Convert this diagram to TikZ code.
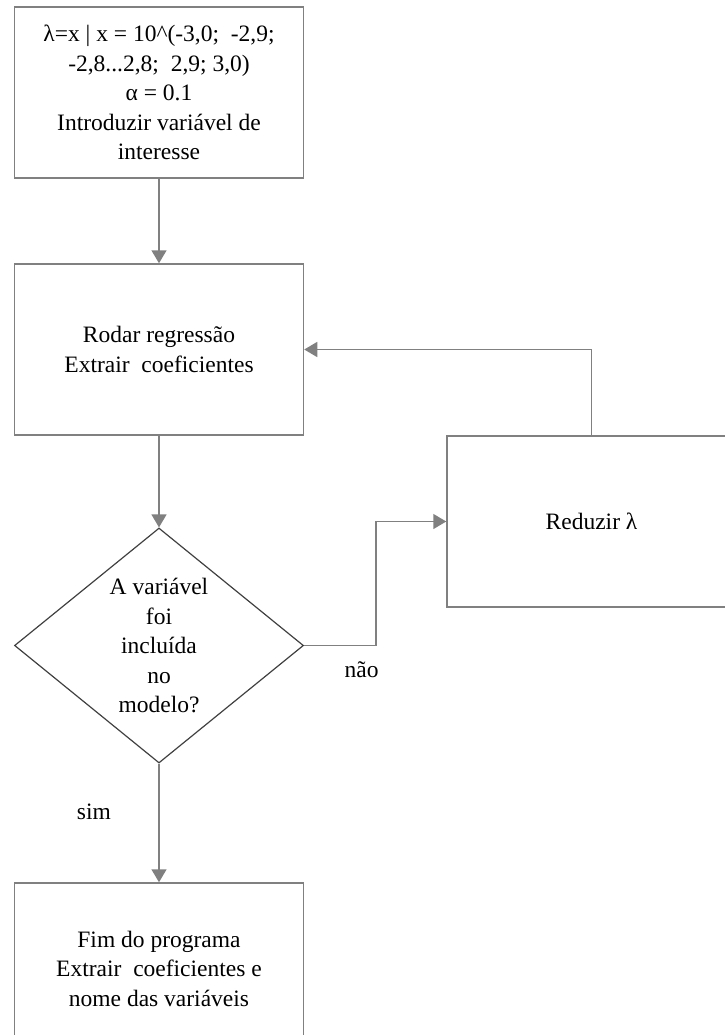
\documentclass[tikz,border=0pt]{standalone}
\usepackage{fontspec}
\setmainfont{Liberation Serif}
\usetikzlibrary{shapes.geometric,arrows.meta}

\begin{document}
\begin{tikzpicture}[x=1pt, y=-1pt, >={Triangle[length=13pt,width=15pt]},
  font=\fontsize{23.5}{29.5}\selectfont,
  box/.style={draw=gray, line width=1.5pt, minimum width=289pt, minimum height=171pt, align=center, inner sep=0pt},
  decision/.style={diamond, draw=darkgray, line width=1.2pt, minimum width=289pt, minimum height=235pt, inner sep=0pt},
  flow/.style={->, draw=gray, line width=1.5pt}]
\useasboundingbox (0,0) rectangle (724,1035);
\node[box] (inicio) at (159,92.5) {λ=x | x = 10\textasciicircum(-3,0;\ \ -2,9;\\ -2,8...2,8;\ \ 2,9; 3,0)\\ α = 0.1\\ Introduzir variável de\\ interesse};
\node[box] (regr) at (159,349.5) {Rodar regressão\\ Extrair\ \ coeficientes};
\node[box] (reduz) at (591.5,521.5) {Reduzir λ};
\node[decision, label={[align=center]center:A variável\\ foi\\ incluída\\ no\\ modelo?}] (teste) at (159,645.5) {};
\node[box] (fim) at (159,968.5) {Fim do programa\\ Extrair\ \ coeficientes e\\ nome das variáveis};

\draw[flow](inicio)--(regr);
\draw[flow](regr)--(teste);
\draw[flow](teste.east)--++(72,0)node[pos=.8, below=12pt]{não} |-(reduz.west);
\draw[flow](reduz.north)|-(regr.east);
\draw[flow](teste.south)--node[pos=.41, left=44pt]{sim}(fim.north);

\end{tikzpicture}
\end{document}
